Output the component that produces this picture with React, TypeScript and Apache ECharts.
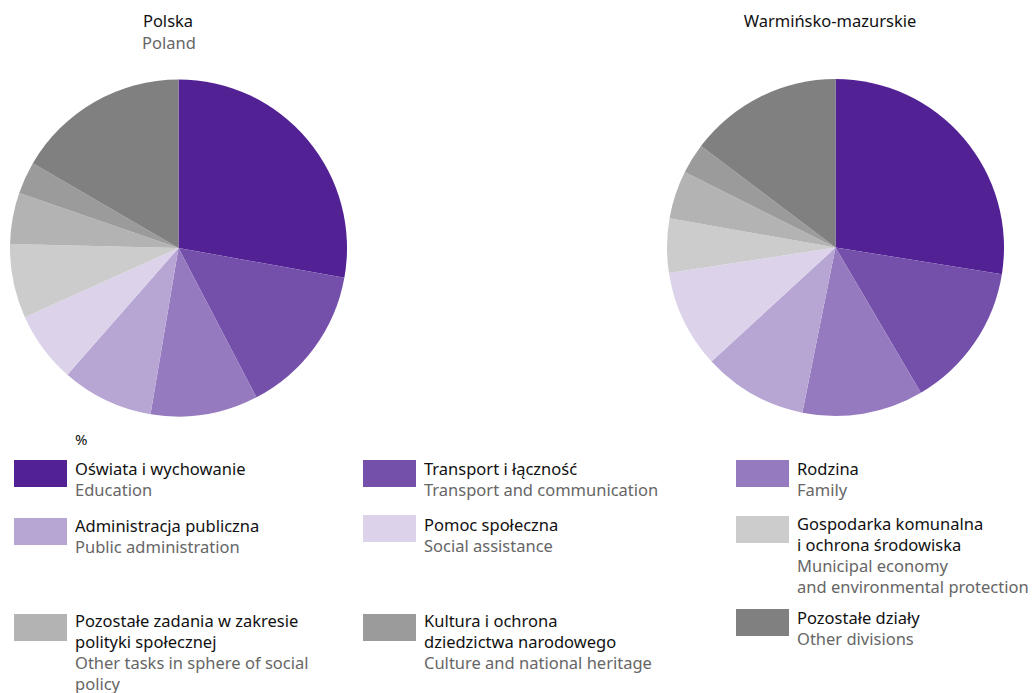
import React, { useEffect, useRef } from "react";
import * as echarts from "echarts";

const categoriesPl = [
  "Oświata i wychowanie",
  "Transport i łączność",
  "Rodzina",
  "Administracja publiczna",
  "Pomoc społeczna",
  "Gospodarka komunalna\ni ochrona środowiska",
  "Pozostałe zadania w zakresie\npolityki społecznej",
  "Kultura i ochrona\ndziedzictwa narodowego",
  "Pozostałe działy",
];
const categoriesEn = [
  "Education",
  "Transport and communication",
  "Family",
  "Public administration",
  "Social assistance",
  "Municipal economy\nand environmental protection",
  "Other tasks in sphere of social\npolicy",
  "Culture and national heritage",
  "Other divisions",
];
const polandValues = [27.8, 14.5, 10.3, 8.8, 6.8, 7.1, 4.9, 3.1, 16.6];
const warmiaValues = [27.5, 14.0, 11.6, 10.0, 9.4, 5.2, 4.6, 2.9, 14.7];
const colors = ["#522194", "#7450ab", "#967abf", "#b7a6d4", "#dcd3ea", "#cccccc", "#b3b3b3", "#9b9b9b", "#808080"];

// legend layout (positions only)
const colX = [14, 363, 736];
const swatchY = [460, 460, 460, 518, 515, 516, 614, 614, 609];
const textY = [468, 468, 468, 525, 524, 523, 620, 620, 617];

const FONT = '"Noto Sans", sans-serif';
const LH = 21.2;
const FS = 16.5;

export default function App() {
  const ref = useRef<HTMLDivElement>(null);
  useEffect(() => {
    document.body.style.margin = "0";
    const chart = echarts.init(ref.current!, undefined, { renderer: "svg" });
    const graphics: any[] = [];
    graphics.push({ type: "text", x: 168, y: 20, style: { text: "Polska", font: `${FS}px ${FONT}`, fill: "#111111", align: "center", verticalAlign: "middle" } });
    graphics.push({ type: "text", x: 169, y: 42, style: { text: "Poland", font: `${FS}px ${FONT}`, fill: "#666666", align: "center", verticalAlign: "middle" } });
    graphics.push({ type: "text", x: 830, y: 20, style: { text: "Warmińsko-mazurskie", font: `${FS}px ${FONT}`, fill: "#111111", align: "center", verticalAlign: "middle" } });
    graphics.push({ type: "text", x: 75, y: 439, style: { text: "%", font: `15px ${FONT}`, fill: "#111111", align: "left", verticalAlign: "middle" } });
    categoriesPl.forEach((pl, i) => {
      const col = i % 3;
      const x = colX[col];
      graphics.push({ type: "rect", shape: { x, y: swatchY[i], width: 53, height: 27 }, style: { fill: colors[i] } });
      const plLines = pl.split("\n");
      const enLines = categoriesEn[i].split("\n");
      plLines.forEach((t, k) => {
        graphics.push({ type: "text", x: x + 61, y: textY[i] + k * LH, style: { text: t, font: `${FS}px ${FONT}`, fill: "#111111", align: "left", verticalAlign: "middle" } });
      });
      enLines.forEach((t, k) => {
        graphics.push({ type: "text", x: x + 61, y: textY[i] + (plLines.length + k) * LH, style: { text: t, font: `${FS}px ${FONT}`, fill: "#666666", align: "left", verticalAlign: "middle" } });
      });
    });
    const mk = (vals: number[], cx: number, cy: number, name: string) => ({
      type: "pie",
      name,
      center: [cx, cy],
      radius: 168.5,
      startAngle: 90,
      clockwise: true,
      label: { show: false },
      labelLine: { show: false },
      emphasis: { disabled: true },
      itemStyle: { borderWidth: 0 },
      data: vals.map((v, i) => ({ name: categoriesEn[i], value: v, itemStyle: { color: colors[i] } })),
    });
    chart.setOption({
      animation: false,
      backgroundColor: "#ffffff",
      series: [mk(polandValues, 178.5, 248, "Polska"), mk(warmiaValues, 835.5, 247.5, "Warmińsko-mazurskie")],
      graphic: graphics,
    });
    return () => chart.dispose();
  }, []);
  return <div ref={ref} style={{ width: 1035, height: 693 }} />;
}
